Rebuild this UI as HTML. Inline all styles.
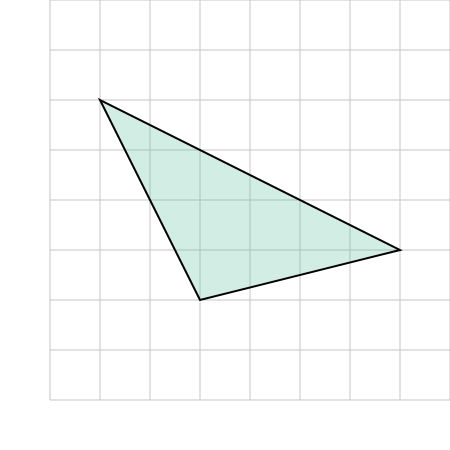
<!DOCTYPE html>
<html><head><meta charset="utf-8"><style>html,body{margin:0;padding:0;background:#fff;}svg{display:block;}</style></head>
<body>
<svg id="chart" width="450" height="450" xmlns="http://www.w3.org/2000/svg">
<g id="grid"></g>
<polygon id="tri" fill="rgba(102,194,165,0.3)" stroke="#000" stroke-width="2" stroke-linejoin="miter"></polygon>
</svg>
<script>
const xTicks = [0,1,2,3,4,5,6,7,8];
const yTicks = [0,1,2,3,4,5,6,7,8];
const vertexX = [1,7,3];
const vertexY = [6,3,2];
const X0=50, Y0=400, U=50;
function sx(v){return X0+v*U;}
function sy(v){return Y0-v*U;}
const ns="http://www.w3.org/2000/svg";
const g=document.getElementById('grid');
xTicks.forEach(t=>{
  const l=document.createElementNS(ns,'line');
  l.setAttribute('x1',sx(t));l.setAttribute('x2',sx(t));
  l.setAttribute('y1',sy(yTicks[0]));l.setAttribute('y2',sy(yTicks[yTicks.length-1]));
  l.setAttribute('stroke','#c4c4c4');l.setAttribute('stroke-width','1');
  
  
  g.appendChild(l);
});
yTicks.forEach(t=>{
  const l=document.createElementNS(ns,'line');
  l.setAttribute('y1',sy(t));l.setAttribute('y2',sy(t));
  l.setAttribute('x1',sx(xTicks[0]));l.setAttribute('x2',sx(xTicks[xTicks.length-1]));
  l.setAttribute('stroke','#c4c4c4');l.setAttribute('stroke-width','1');
  
  
  g.appendChild(l);
});
document.getElementById('tri').setAttribute('points',vertexX.map((x,i)=>sx(x)+','+sy(vertexY[i])).join(' '));
</script>
</body></html>
